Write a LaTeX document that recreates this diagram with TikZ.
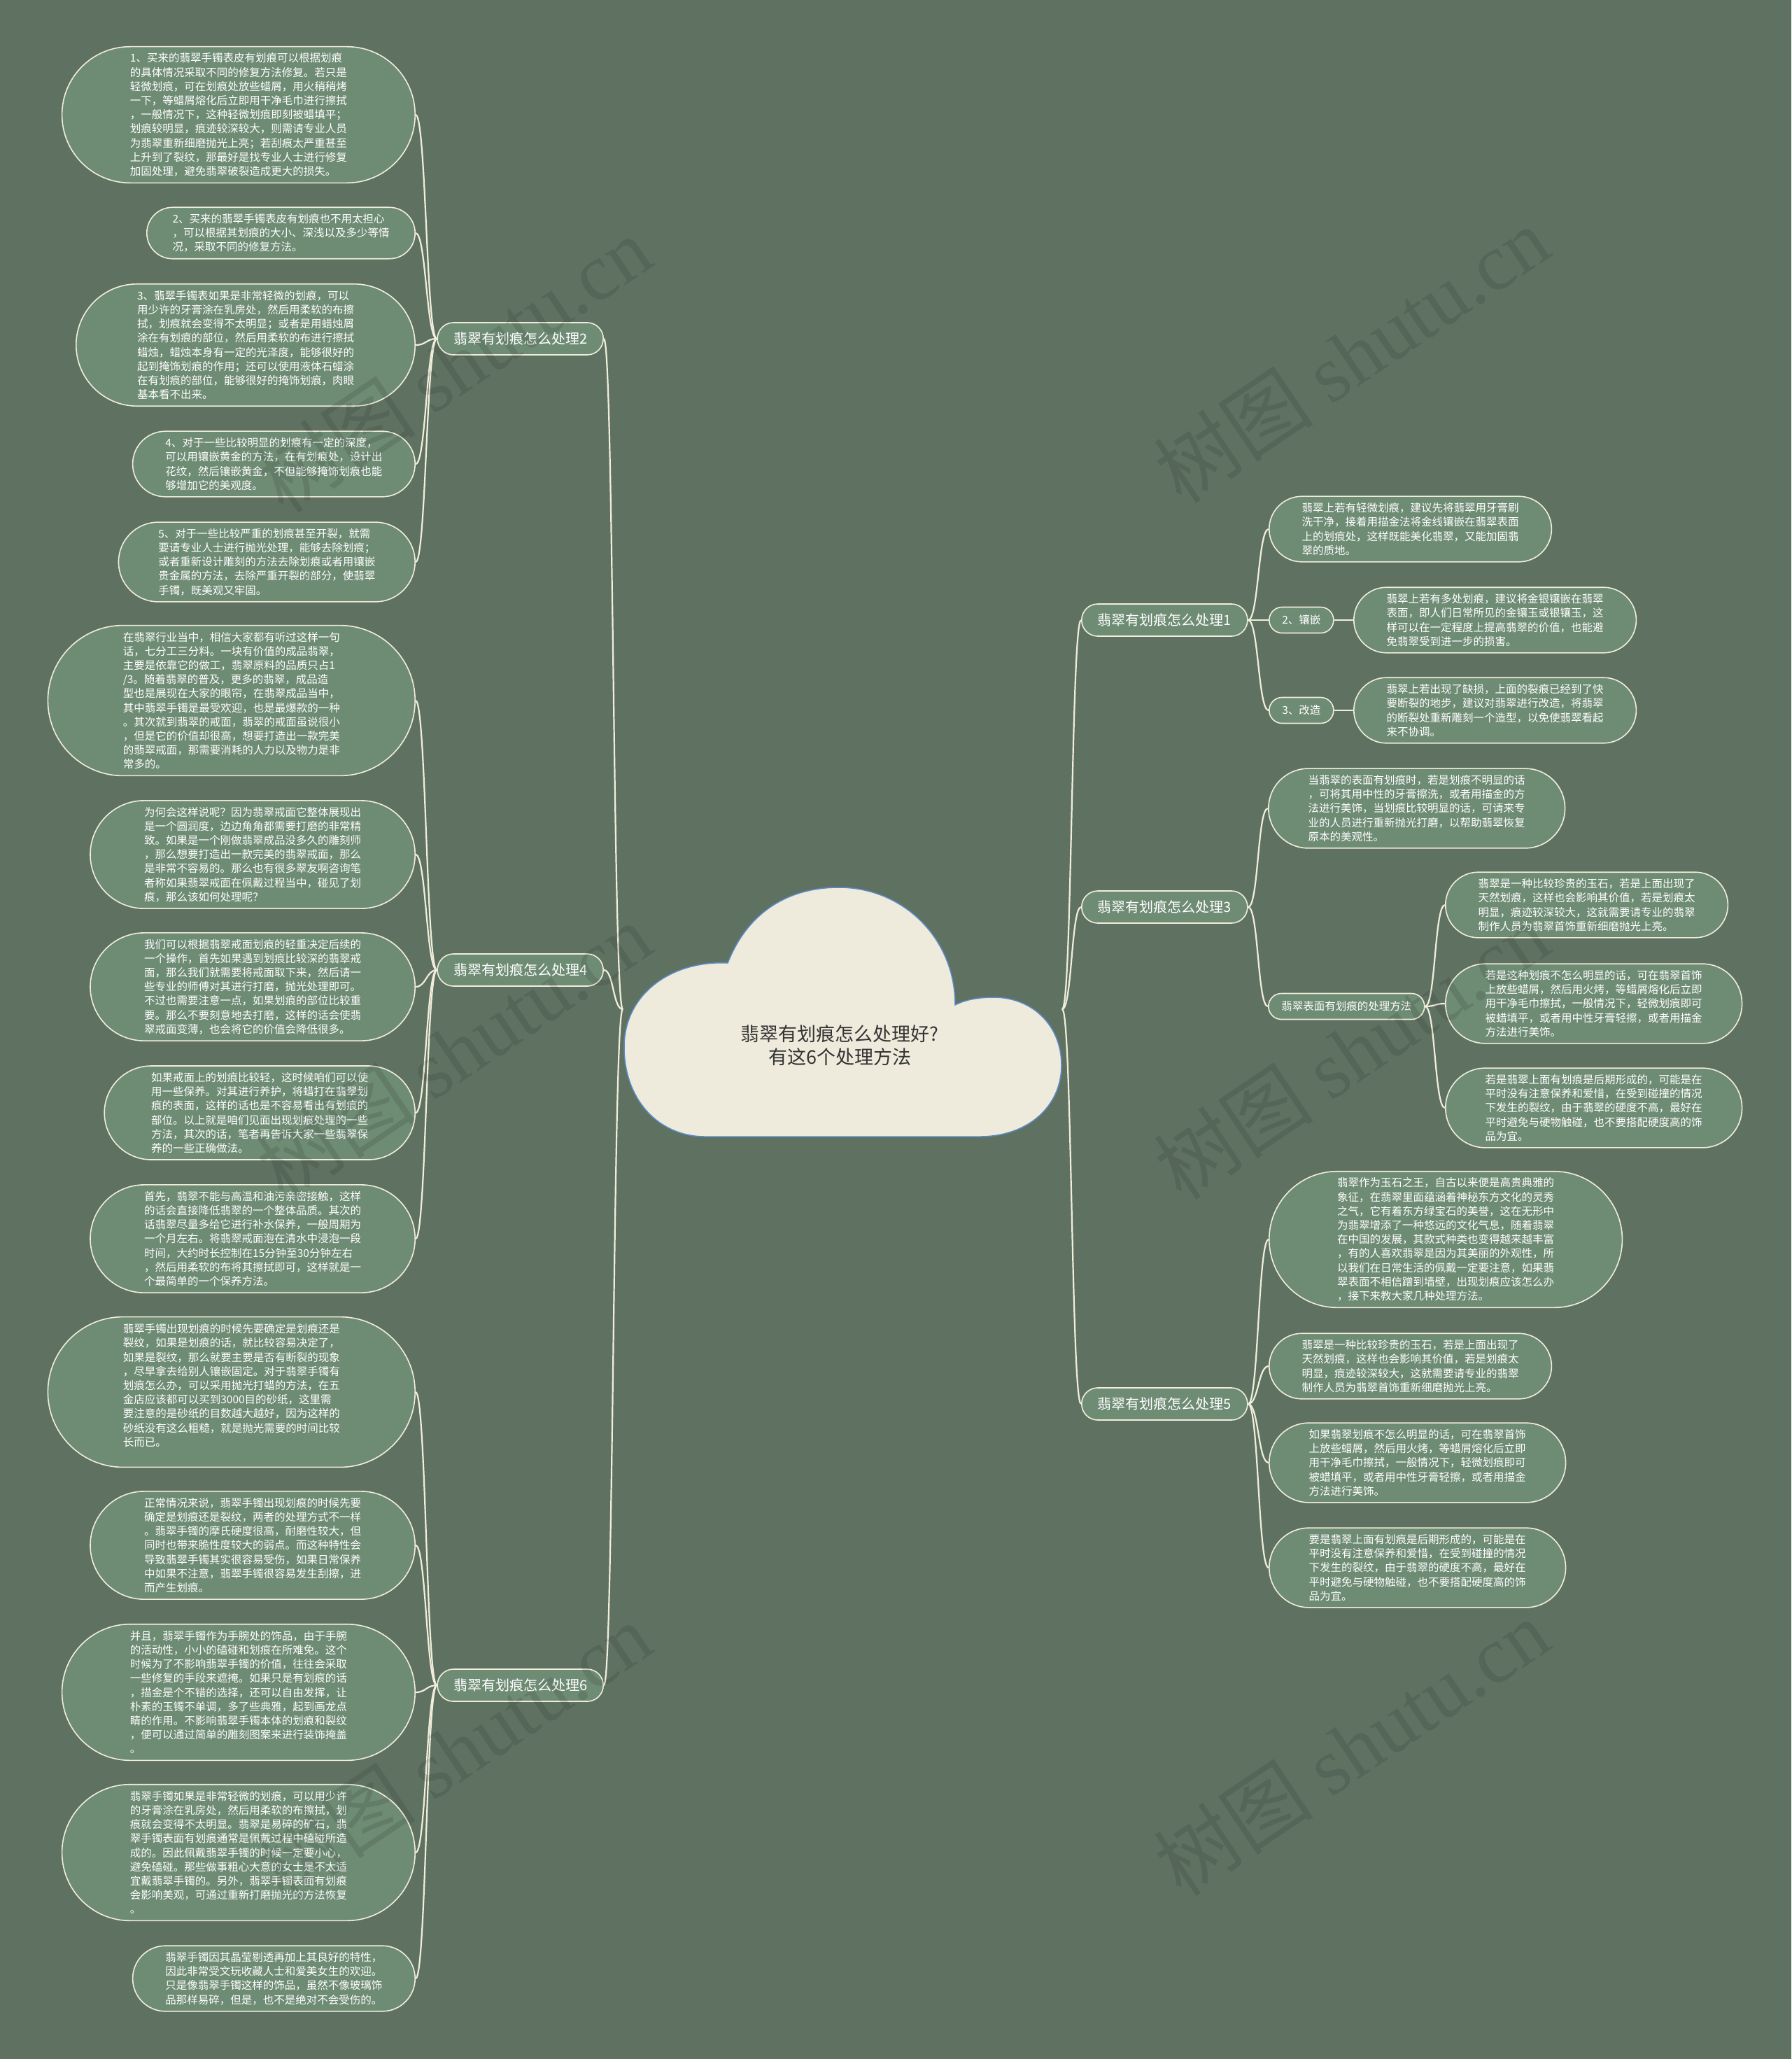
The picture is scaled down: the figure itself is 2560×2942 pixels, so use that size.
\documentclass[tikz,border=0pt]{standalone}
\usepackage{fontspec}
\setmainfont{Noto Sans CJK SC}
\newfontfamily\wmlatin{Liberation Serif}
\definecolor{bgcol}{HTML}{5F7262}
\definecolor{boxcol}{HTML}{6E8B74}
\definecolor{linecol}{HTML}{F1EDDB}
\definecolor{cloudcol}{HTML}{EFEBDC}
\definecolor{cloudline}{HTML}{5B8BC9}
\tikzset{
  pill/.style={rectangle, draw=linecol, line width=1.6pt, fill=boxcol, text=white,
    rounded corners=#1, inner xsep=#1, inner ysep=1pt, minimum height=2*#1+0.02pt},
  leaf/.style={/utils/exec={\pgfmathsetmacro\leafr{(#1-1)*10.1+16.5}}, pill=\leafr pt,
    align=left, font=\fontsize{15.5}{20.2}\selectfont},
  tag/.style={pill=18.5pt, font=\fontsize{15.5}{20.2}\selectfont},
  topic/.style={pill=23pt, font=\fontsize{20}{24}\selectfont},
  link/.style={draw=linecol, line width=2.2pt},
  wm/.style={text=black, opacity=0.1, rotate=34, font=\fontsize{115}{120}\selectfont}
}
\begin{document}
\begin{tikzpicture}[x=1pt,y=-1pt]
\useasboundingbox (0,0) rectangle (2560,2942);
\fill[bgcol] (0,0) rectangle (2560,2942);

\path[fill=cloudcol, draw=cloudline, line width=1.5pt]
  (1008,1624) .. controls (940,1624) and (892,1570) .. (892,1496)
  .. controls (892,1420) and (960,1372) .. (1040,1376)
  .. controls (1070,1300) and (1130,1268) .. (1199,1268)
  .. controls (1290,1268) and (1365,1340) .. (1365,1436)
  .. controls (1380,1428) and (1400,1425) .. (1420,1425)
  .. controls (1475,1425) and (1517,1465) .. (1517,1522)
  .. controls (1517,1580) and (1470,1624) .. (1400,1624) -- cycle;
\node[font=\fontsize{27}{33}\selectfont, text=black!80, align=center] (root) at (1200,1494)
  {翡翠有划痕怎么处理好?\\有这6个处理方法};
\coordinate (JL) at (890,1442);
\coordinate (JR) at (1518,1442);

\node[topic, anchor=east] (B2) at (863,484) {翡翠有划痕怎么处理2};
\node[topic, anchor=east] (B4) at (863,1386) {翡翠有划痕怎么处理4};
\node[topic, anchor=east] (B6) at (863,2408) {翡翠有划痕怎么处理6};
\node[topic, anchor=west] (B1) at (1545,886) {翡翠有划痕怎么处理1};
\node[topic, anchor=west] (B3) at (1545,1296) {翡翠有划痕怎么处理3};
\node[topic, anchor=west] (B5) at (1545,2006) {翡翠有划痕怎么处理5};

\node[leaf=9, anchor=east] (L2a) at (594,164) {1、买来的翡翠手镯表皮有划痕可以根据划痕\\的具体情况采取不同的修复方法修复。若只是\\轻微划痕，可在划痕处放些蜡屑，用火稍稍烤\\一下，等蜡屑熔化后立即用干净毛巾进行擦拭\\，一般情况下，这种轻微划痕即刻被蜡填平；\\划痕较明显，痕迹较深较大，则需请专业人员\\为翡翠重新细磨抛光上亮；若刮痕太严重甚至\\上升到了裂纹，那最好是找专业人士进行修复\\加固处理，避免翡翠破裂造成更大的损失。};
\node[leaf=3, anchor=east] (L2b) at (594,333) {2、买来的翡翠手镯表皮有划痕也不用太担心\\，可以根据其划痕的大小、深浅以及多少等情\\况，采取不同的修复方法。};
\node[leaf=8, anchor=east] (L2c) at (594,493) {3、翡翠手镯表如果是非常轻微的划痕，可以\\用少许的牙膏涂在乳房处，然后用柔软的布擦\\拭，划痕就会变得不太明显；或者是用蜡烛屑\\涂在有划痕的部位，然后用柔软的布进行擦拭\\蜡烛，蜡烛本身有一定的光泽度，能够很好的\\起到掩饰划痕的作用；还可以使用液体石蜡涂\\在有划痕的部位，能够很好的掩饰划痕，肉眼\\基本看不出来。};
\node[leaf=4, anchor=east] (L2d) at (594,663) {4、对于一些比较明显的划痕有一定的深度，\\可以用镶嵌黄金的方法，在有划痕处，设计出\\花纹，然后镶嵌黄金，不但能够掩饰划痕也能\\够增加它的美观度。};
\node[leaf=5, anchor=east] (L2e) at (594,803) {5、对于一些比较严重的划痕甚至开裂，就需\\要请专业人士进行抛光处理，能够去除划痕；\\或者重新设计雕刻的方法去除划痕或者用镶嵌\\贵金属的方法，去除严重开裂的部分，使翡翠\\手镯，既美观又牢固。};

\node[leaf=10, anchor=east] (L4a) at (594,1001) {在翡翠行业当中，相信大家都有听过这样一句\\话，七分工三分料。一块有价值的成品翡翠，\\主要是依靠它的做工，翡翠原料的品质只占1\\/3。随着翡翠的普及，更多的翡翠，成品造\\型也是展现在大家的眼帘，在翡翠成品当中，\\其中翡翠手镯是最受欢迎，也是最爆款的一种\\。其次就到翡翠的戒面，翡翠的戒面虽说很小\\，但是它的价值却很高，想要打造出一款完美\\的翡翠戒面，那需要消耗的人力以及物力是非\\常多的。};
\node[leaf=7, anchor=east] (L4b) at (594,1221) {为何会这样说呢？因为翡翠戒面它整体展现出\\是一个圆润度，边边角角都需要打磨的非常精\\致。如果是一个刚做翡翠成品没多久的雕刻师\\，那么想要打造出一款完美的翡翠戒面，那么\\是非常不容易的。那么也有很多翠友啊咨询笔\\者称如果翡翠戒面在佩戴过程当中，碰见了划\\痕，那么该如何处理呢？};
\node[leaf=7, anchor=east] (L4c) at (594,1410) {我们可以根据翡翠戒面划痕的轻重决定后续的\\一个操作，首先如果遇到划痕比较深的翡翠戒\\面，那么我们就需要将戒面取下来，然后请一\\些专业的师傅对其进行打磨，抛光处理即可。\\不过也需要注意一点，如果划痕的部位比较重\\要。那么不要刻意地去打磨，这样的话会使翡\\翠戒面变薄，也会将它的价值会降低很多。};
\node[leaf=6, anchor=east] (L4d) at (594,1590) {如果戒面上的划痕比较轻，这时候咱们可以使\\用一些保养。对其进行养护，将蜡打在翡翠划\\痕的表面，这样的话也是不容易看出有划痕的\\部位。以上就是咱们见面出现划痕处理的一些\\方法，其次的话，笔者再告诉大家一些翡翠保\\养的一些正确做法。};
\node[leaf=7, anchor=east] (L4e) at (594,1770) {首先，翡翠不能与高温和油污亲密接触，这样\\的话会直接降低翡翠的一个整体品质。其次的\\话翡翠尽量多给它进行补水保养，一般周期为\\一个月左右。将翡翠戒面泡在清水中浸泡一段\\时间，大约时长控制在15分钟至30分钟左右\\，然后用柔软的布将其擦拭即可，这样就是一\\个最简单的一个保养方法。};

\node[leaf=10, anchor=east] (L6a) at (594,1989) {翡翠手镯出现划痕的时候先要确定是划痕还是\\裂纹，如果是划痕的话，就比较容易决定了，\\如果是裂纹，那么就要主要是否有断裂的现象\\，尽早拿去给别人镶嵌固定。对于翡翠手镯有\\划痕怎么办，可以采用抛光打蜡的方法，在五\\金店应该都可以买到3000目的砂纸，这里需\\要注意的是砂纸的目数越大越好，因为这样的\\砂纸没有这么粗糙，就是抛光需要的时间比较\\长而已。\\\mbox{}};
\node[leaf=7, anchor=east] (L6b) at (594,2208) {正常情况来说，翡翠手镯出现划痕的时候先要\\确定是划痕还是裂纹，两者的处理方式不一样\\。翡翠手镯的摩氏硬度很高，耐磨性较大，但\\同时也带来脆性度较大的弱点。而这种特性会\\导致翡翠手镯其实很容易受伤，如果日常保养\\中如果不注意，翡翠手镯很容易发生刮擦，进\\而产生划痕。};
\node[leaf=9, anchor=east] (L6c) at (594,2418) {并且，翡翠手镯作为手腕处的饰品，由于手腕\\的活动性，小小的磕碰和划痕在所难免。这个\\时候为了不影响翡翠手镯的价值，往往会采取\\一些修复的手段来遮掩。如果只是有划痕的话\\，描金是个不错的选择，还可以自由发挥，让\\朴素的玉镯不单调，多了些典雅，起到画龙点\\睛的作用。不影响翡翠手镯本体的划痕和裂纹\\，便可以通过简单的雕刻图案来进行装饰掩盖\\。};
\node[leaf=9, anchor=east] (L6d) at (594,2647) {翡翠手镯如果是非常轻微的划痕，可以用少许\\的牙膏涂在乳房处，然后用柔软的布擦拭，划\\痕就会变得不太明显。翡翠是易碎的矿石，翡\\翠手镯表面有划痕通常是佩戴过程中磕碰所造\\成的。因此佩戴翡翠手镯的时候一定要小心，\\避免磕碰。那些做事粗心大意的女士是不太适\\宜戴翡翠手镯的。另外，翡翠手镯表面有划痕\\会影响美观，可通过重新打磨抛光的方法恢复\\。};
\node[leaf=4, anchor=east] (L6e) at (594,2827) {翡翠手镯因其晶莹剔透再加上其良好的特性，\\因此非常受文玩收藏人士和爱美女生的欢迎。\\只是像翡翠手镯这样的饰品，虽然不像玻璃饰\\品那样易碎，但是，也不是绝对不会受伤的。};

\node[leaf=4, anchor=west] (R1a) at (1813,756) {翡翠上若有轻微划痕，建议先将翡翠用牙膏刷\\洗干净，接着用描金法将金线镶嵌在翡翠表面\\上的划痕处，这样既能美化翡翠，又能加固翡\\翠的质地。};
\node[tag, anchor=west] (T2) at (1813,886) {2、镶嵌};
\node[leaf=4, anchor=west] (R1b) at (1934,886) {翡翠上若有多处划痕，建议将金银镶嵌在翡翠\\表面，即人们日常所见的金镶玉或银镶玉，这\\样可以在一定程度上提高翡翠的价值，也能避\\免翡翠受到进一步的损害。};
\node[tag, anchor=west] (T3) at (1813,1015) {3、改造};
\node[leaf=4, anchor=west] (R1c) at (1934,1015) {翡翠上若出现了缺损，上面的裂痕已经到了快\\要断裂的地步，建议对翡翠进行改造，将翡翠\\的断裂处重新雕刻一个造型，以免使翡翠看起\\来不协调。};

\node[leaf=5, anchor=west] (R3a) at (1812,1155) {当翡翠的表面有划痕时，若是划痕不明显的话\\，可将其用中性的牙膏擦洗，或者用描金的方\\法进行美饰，当划痕比较明显的话，可请来专\\业的人员进行重新抛光打磨，以帮助翡翠恢复\\原本的美观性。};
\node[tag, anchor=west] (M3) at (1812,1438) {翡翠表面有划痕的处理方法};
\node[leaf=4, anchor=west] (R3b) at (2065,1293) {翡翠是一种比较珍贵的玉石，若是上面出现了\\天然划痕，这样也会影响其价值，若是划痕太\\明显，痕迹较深较大，这就需要请专业的翡翠\\制作人员为翡翠首饰重新细磨抛光上亮。};
\node[leaf=5, anchor=west] (R3c) at (2065,1434) {若是这种划痕不怎么明显的话，可在翡翠首饰\\上放些蜡屑，然后用火烤，等蜡屑熔化后立即\\用干净毛巾擦拭，一般情况下，轻微划痕即可\\被蜡填平，或者用中性牙膏轻擦，或者用描金\\方法进行美饰。};
\node[leaf=5, anchor=west] (R3d) at (2065,1583) {若是翡翠上面有划痕是后期形成的，可能是在\\平时没有注意保养和爱惜，在受到碰撞的情况\\下发生的裂纹，由于翡翠的硬度不高，最好在\\平时避免与硬物触碰，也不要搭配硬度高的饰\\品为宜。};

\node[leaf=9, anchor=west] (R5a) at (1813,1771) {翡翠作为玉石之王，自古以来便是高贵典雅的\\象征，在翡翠里面蕴涵着神秘东方文化的灵秀\\之气，它有着东方绿宝石的美誉，这在无形中\\为翡翠增添了一种悠远的文化气息，随着翡翠\\在中国的发展，其款式种类也变得越来越丰富\\，有的人喜欢翡翠是因为其美丽的外观性，所\\以我们在日常生活的佩戴一定要注意，如果翡\\翠表面不相信蹭到墙壁，出现划痕应该怎么办\\，接下来教大家几种处理方法。};
\node[leaf=4, anchor=west] (R5b) at (1813,1952) {翡翠是一种比较珍贵的玉石，若是上面出现了\\天然划痕，这样也会影响其价值，若是划痕太\\明显，痕迹较深较大，这就需要请专业的翡翠\\制作人员为翡翠首饰重新细磨抛光上亮。};
\node[leaf=5, anchor=west] (R5c) at (1813,2090) {如果翡翠划痕不怎么明显的话，可在翡翠首饰\\上放些蜡屑，然后用火烤，等蜡屑熔化后立即\\用干净毛巾擦拭，一般情况下，轻微划痕即可\\被蜡填平，或者用中性牙膏轻擦，或者用描金\\方法进行美饰。};
\node[leaf=5, anchor=west] (R5d) at (1813,2240) {要是翡翠上面有划痕是后期形成的，可能是在\\平时没有注意保养和爱惜，在受到碰撞的情况\\下发生的裂纹，由于翡翠的硬度不高，最好在\\平时避免与硬物触碰，也不要搭配硬度高的饰\\品为宜。};

\foreach \c in {B2,B4,B6}
  \draw[link] (JL) .. controls +(-14,0) and +(14,0) .. (\c.east);
\foreach \c in {B1,B3,B5}
  \draw[link] (JR) .. controls +(14,0) and +(-14,0) .. (\c.west);
\foreach \c in {L2a,L2b,L2c,L2d,L2e}
  \draw[link] (B2.west) .. controls +(-15,0) and +(15,0) .. (\c.east);
\foreach \c in {L4a,L4b,L4c,L4d,L4e}
  \draw[link] (B4.west) .. controls +(-15,0) and +(15,0) .. (\c.east);
\foreach \c in {L6a,L6b,L6c,L6d,L6e}
  \draw[link] (B6.west) .. controls +(-15,0) and +(15,0) .. (\c.east);
\foreach \c in {R1a,T2,T3}
  \draw[link] (B1.east) .. controls +(15,0) and +(-15,0) .. (\c.west);
\draw[link] (T2.east) -- (R1b.west);
\draw[link] (T3.east) -- (R1c.west);
\foreach \c in {R3a,M3}
  \draw[link] (B3.east) .. controls +(15,0) and +(-15,0) .. (\c.west);
\foreach \c in {R3b,R3c,R3d}
  \draw[link] (M3.east) .. controls +(15,0) and +(-15,0) .. (\c.west);
\foreach \c in {R5a,R5b,R5c,R5d}
  \draw[link] (B5.east) .. controls +(15,0) and +(-15,0) .. (\c.west);

\foreach \wx/\wy [count=\i] in {648/521,648/1502,648/2502,1931/507,1931/1502,1931/2497}
  \node[wm] (wm\i) at (\wx,\wy) {树图 {\wmlatin shutu.cn}};
\end{tikzpicture}
\end{document}
